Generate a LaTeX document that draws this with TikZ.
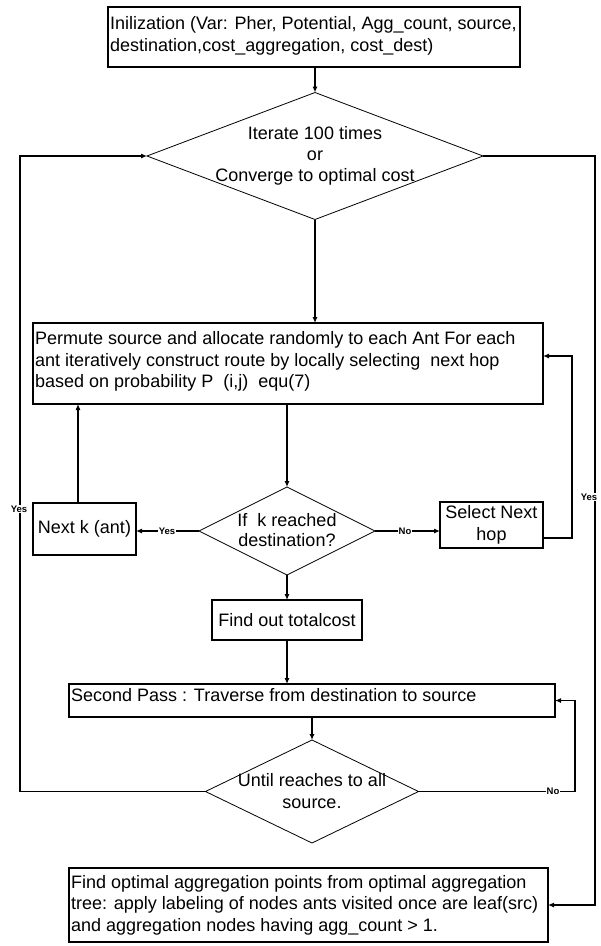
\documentclass[tikz,border=0pt]{standalone}
\usepackage{fontspec}
\setmainfont{Liberation Sans}
\usetikzlibrary{shapes.geometric,arrows.meta,calc}
\begin{document}
\begin{tikzpicture}[x=1pt,y=-1pt,
  box/.style={draw=black, line width=1.1pt, inner sep=0pt, outer sep=0pt},
  dia/.style={draw=black, diamond, line width=0.8pt, inner sep=0pt, outer sep=0pt},
  txt/.style={inner sep=0pt, font=\fontsize{18}{21.5}\selectfont},
  lbl/.style={fill=white, inner sep=1pt, font=\fontsize{9.5}{10}\selectfont\bfseries},
  arr/.style={line width=1.1pt, -{Latex[length=6pt,width=5pt]}}
]
\fill[white] (0,0) rectangle (601,946);
\useasboundingbox (0,0) rectangle (601,946);

% boxes
\node[box, minimum width=412pt, minimum height=60pt] (top) at (314,37) {};
\node[txt, anchor=west, align=left] (ttop) at (110,36) {Inilization (Var: Pher, Potential, Agg\_count, source,\\destination,cost\_aggregation, cost\_dest)};

\node[box, minimum width=510pt, minimum height=81pt] (perm) at (288,363.5) {};
\node[txt, anchor=west, align=left] (tperm) at (35,361.5) {Permute source and allocate randomly to each Ant For each\\ant iteratively construct route by locally selecting\ \ next hop\\based on probability P\ \ (i,j)\ \ equ(7)};

\node[box, txt, minimum width=103pt, minimum height=52pt, align=center] (nk) at (84.5,529) {Next k (ant)};
\node[box, txt, minimum width=103pt, minimum height=46pt, align=center] (sel) at (491.5,525) {Select Next\\hop};
\node[box, txt, minimum width=150pt, minimum height=40pt, align=center] (tc) at (287,620) {Find out totalcost};

\node[box, minimum width=486pt, minimum height=33pt] (sp) at (312,700.5) {};
\node[txt, anchor=west] (tsp) at (71,695) {Second Pass : Traverse from destination to source};

\node[box, minimum width=479pt, minimum height=74pt] (bot) at (308.5,905) {};
\node[txt, anchor=west, align=left] (tbot) at (71,905) {Find optimal aggregation points from optimal aggregation\\tree: apply labeling of nodes ants visited once are leaf(src)\\and aggregation nodes having agg\_count > 1.};

% diamonds
\node[dia, minimum width=336pt, minimum height=127pt] (d1) at (315,156) {};
\node[txt, align=center, font=\fontsize{18}{21}\selectfont] (td1) at (315,156) {Iterate 100 times\\or\\Converge to optimal cost};

\node[dia, minimum width=176pt, minimum height=88pt] (dk) at (287,531) {};
\node[txt, align=center, font=\fontsize{18}{20}\selectfont] (tdk) at (287,530) {If\ \ k reached\\destination?};

\node[dia, minimum width=213pt, minimum height=103pt] (du) at (312,791.5) {};
\node[txt, align=center, font=\fontsize{18}{22}\selectfont] (tdu) at (312,791) {Until reaches to all\\source.};

% helper coordinates
\coordinate (L) at (20,0);
\coordinate (R1) at (572,0);
\coordinate (R2) at (575,0);
\coordinate (R3) at (595,0);
\coordinate (nkup) at ([xshift=-6.5pt]nk.north);
\coordinate (selout) at ([yshift=-13pt]sel.east);
\coordinate (permin) at ([yshift=7.5pt]perm.east);

% connectors
\draw[arr] (d1.north |- top.south) -- (d1.north);
\draw[arr] (d1.south) -- (d1.south |- perm.north);
\draw[arr] (dk.north |- perm.south) -- (dk.north);
\draw[arr] (dk.west) -- (dk.west -| nk.east);
\draw[arr] (nkup) -- (nkup |- perm.south);
\draw[arr] (dk.east) -- (dk.east -| sel.west);
\draw[arr] (selout) -- (selout -| R1) -- (permin -| R1) -- (permin);
\draw[arr] (dk.south) -- (dk.south |- tc.north);
\draw[arr] (tc.south) -- (tc.south |- sp.north);
\draw[arr] (du.north |- sp.south) -- (du.north);
\draw[arr] (du.west) -- (du.west -| L) -- (d1.west -| L) -- (d1.west);
\draw[arr] (du.east) -- (du.east -| R2) -- (sp.east -| R2) -- (sp.east);
\draw[arr] (d1.east) -- (d1.east -| R3) -- (bot.east -| R3) -- (bot.east);

% labels
\node[lbl] (y1) at (19,509) {Yes};
\node[lbl] (y2) at (589,497) {Yes};
\node[lbl] (y3) at (167,531) {Yes};
\node[lbl] (n1) at (405,531) {No};
\node[lbl] (n2) at (553,791.5) {No};
\end{tikzpicture}
\end{document}
